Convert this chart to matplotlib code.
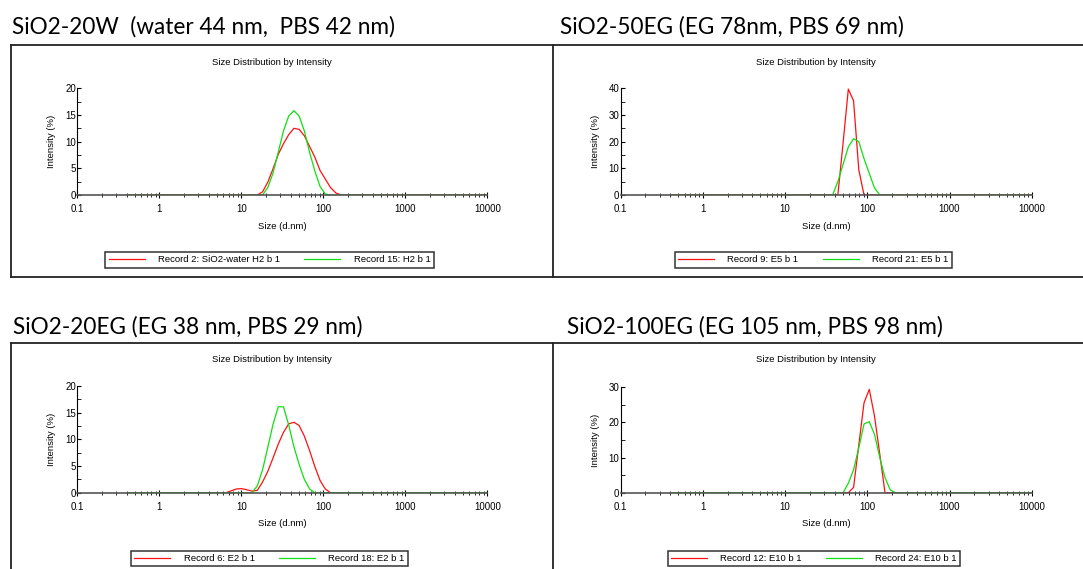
import matplotlib
matplotlib.use("Agg")
import matplotlib.pyplot as plt
from matplotlib.lines import Line2D
from matplotlib.ticker import FixedLocator, NullFormatter

W, H = 1083, 569

# Malvern size bins (d.nm) around the peaks, plus the ends of the measured range
SIZES = [0.4, 5.615, 6.503, 7.531, 8.721, 10.10, 11.70, 13.54, 15.69, 18.17, 21.04,
         24.36, 28.21, 32.67, 37.84, 43.82, 50.75, 58.77, 68.06, 78.82, 91.28,
         105.7, 122.4, 141.8, 164.2, 190.1, 220.2, 255.0, 10000]

# intensity (%) per bin
water_h2 = [0, 0, 0, 0, 0, 0, 0, 0, 0, 0.6, 2.4, 4.9, 7.6, 9.6, 11.3, 12.5, 12.3,
            11.1, 9.1, 7.1, 4.6, 3.0, 1.4, 0.4, 0, 0, 0, 0, 0]
pbs_h2 = [0, 0, 0, 0, 0, 0, 0, 0, 0, 0, 1.4, 4.1, 8.0, 12.0, 14.8, 15.8, 14.8,
          12.0, 8.0, 4.5, 1.6, 0.2, 0, 0, 0, 0, 0, 0, 0]
eg_e5 = [0, 0, 0, 0, 0, 0, 0, 0, 0, 0, 0, 0, 0, 0, 0, 0, 19.5, 39.7, 35.3, 9.4,
         0, 0, 0, 0, 0, 0, 0, 0, 0]
pbs_e5 = [0, 0, 0, 0, 0, 0, 0, 0, 0, 0, 0, 0, 0, 0, 0, 5.0, 11.5, 18.0, 21.1,
          20.0, 13.6, 8.1, 2.6, 0, 0, 0, 0, 0, 0]
eg_e2 = [0, 0, 0, 0.35, 0.7, 0.76, 0.55, 0.3, 0.45, 2.0, 4.0, 6.5, 9.1, 11.3,
         12.9, 13.2, 12.6, 10.6, 7.9, 4.9, 2.3, 0.7, 0, 0, 0, 0, 0, 0, 0]
pbs_e2 = [0, 0, 0, 0, 0, 0, 0, 0, 1.3, 4.3, 8.5, 12.8, 16.1, 16.1, 12.7, 8.6,
          5.3, 2.5, 0.7, 0, 0, 0, 0, 0, 0, 0, 0, 0, 0]
eg_e10 = [0, 0, 0, 0, 0, 0, 0, 0, 0, 0, 0, 0, 0, 0, 0, 0, 0, 0, 1.5, 13.6, 25.6,
          29.4, 21.8, 11.0, 0, 0, 0, 0, 0]
pbs_e10 = [0, 0, 0, 0, 0, 0, 0, 0, 0, 0, 0, 0, 0, 0, 0, 0, 0, 2.7, 6.5, 12.8,
           19.6, 20.2, 16.6, 10.0, 4.3, 0.8, 0, 0, 0]

TICK_POS = [0.1, 1, 10, 100, 1000, 10000]
TICK_LABELS = ["0.1", "1", "10", "100", "1000", "10000"]
MINOR_POS = [m * d for d in [0.1, 1, 10, 100, 1000] for m in range(2, 10)]

panels = [
    dict(title="SiO2-20W  (water 44 nm,  PBS 42 nm)", tx=11.7, ty=33.3,
         box=(77.3, 487.3, 195.0, 88.3), ymax=20, ystep=5,
         red=water_h2, green=pbs_h2,
         labels=("Record 2: SiO2-water H2 b 1", "Record 15: H2 b 1"),
         atitle=(271.7, 62.7), legend=(269.5, 260.0)),
    dict(title="SiO2-50EG (EG 78nm, PBS 69 nm)", tx=560.0, ty=33.3,
         box=(620.7, 1031.7, 195.0, 88.3), ymax=40, ystep=10,
         red=eg_e5, green=pbs_e5,
         labels=("Record 9: E5 b 1", "Record 21: E5 b 1"),
         atitle=(815.5, 62.7), legend=(813.3, 260.0)),
    dict(title="SiO2-20EG (EG 38 nm, PBS 29 nm)", tx=13.3, ty=333.3,
         box=(77.3, 487.3, 492.7, 386.0), ymax=20, ystep=5,
         red=eg_e2, green=pbs_e2,
         labels=("Record 6: E2 b 1", "Record 18: E2 b 1"),
         atitle=(271.7, 360.0), legend=(269.5, 558.5)),
    dict(title="SiO2-100EG (EG 105 nm, PBS 98 nm)", tx=566.7, ty=333.3,
         box=(620.7, 1031.7, 492.7, 387.3), ymax=30, ystep=10,
         red=eg_e10, green=pbs_e10,
         labels=("Record 12: E10 b 1", "Record 24: E10 b 1"),
         atitle=(815.5, 360.0), legend=(814.0, 558.5)),
]

plt.rcParams["font.family"] = ["Liberation Sans", "DejaVu Sans"]

fig = plt.figure(figsize=(W / 100, H / 100), dpi=100)


def fx(px):
    return px / W


def fy(py):
    return 1 - py / H


# slide frame lines
frame = [
    ((11, W), (45, 45)), ((11, W), (277, 277)), ((11, 11), (45, 277)), ((553.3, 553.3), (45, 277)),
    ((11, W), (343.3, 343.3)), ((11, 11), (343.3, H)), ((553.3, 553.3), (343.3, H)),
]
for xs, ys in frame:
    fig.add_artist(Line2D([fx(x) for x in xs], [fy(y) for y in ys], color="#222222", lw=1.3))

for p in panels:
    x0, x1, y0, y1 = p["box"]
    ax = fig.add_axes([fx(x0), fy(y0), (x1 - x0) / W, (y0 - y1) / H])
    ax.plot(SIZES, p["red"], color="#ff1010", lw=0.9, label=p["labels"][0])
    ax.plot(SIZES, p["green"], color="#10e010", lw=0.9, label=p["labels"][1])
    ax.set_xscale("log")
    ax.set_xlim(0.1, 10000)
    ax.set_ylim(0, p["ymax"])
    ax.xaxis.set_major_locator(FixedLocator(TICK_POS))
    ax.xaxis.set_minor_locator(FixedLocator(MINOR_POS))
    ax.xaxis.set_minor_formatter(NullFormatter())
    ax.set_xticks(TICK_POS, TICK_LABELS)
    yt = list(range(0, p["ymax"] + 1, p["ystep"]))
    ax.set_yticks(yt, [str(v) for v in yt])
    ax.yaxis.set_minor_locator(FixedLocator([v + p["ystep"] / 2 for v in yt[:-1]]))
    for s in ["top", "right"]:
        ax.spines[s].set_visible(False)
    ax.spines["left"].set_linewidth(0.8)
    ax.spines["bottom"].set_linewidth(1.2)
    ax.spines["bottom"].set_color("#555555")
    ax.tick_params(axis="x", which="major", direction="inout", length=5, width=0.8,
                   labelsize=7, pad=4)
    ax.tick_params(axis="x", which="minor", direction="inout", length=3, width=0.6)
    ax.tick_params(axis="y", which="major", direction="in", length=3, width=0.8,
                   labelsize=7, pad=1)
    ax.tick_params(axis="y", which="minor", direction="in", length=3, width=0.6)
    ax.set_xlabel("Size (d.nm)", fontsize=6.8, va="center")
    ax.xaxis.set_label_coords(0.5, -31 / (y0 - y1))
    ax.set_ylabel("Intensity (%)", fontsize=6.8, va="center")
    ax.yaxis.set_label_coords(-25.6 / (x1 - x0), 0.5)
    ax.set_facecolor("none")

    leg = ax.legend(loc="center", bbox_to_anchor=(fx(p["legend"][0]), fy(p["legend"][1])),
                    bbox_transform=fig.transFigure, ncol=2, fontsize=6.8,
                    handlelength=3.8, handletextpad=1.4, columnspacing=2.6,
                    borderpad=0.35, frameon=True, fancybox=False)
    leg.get_frame().set_edgecolor("black")
    leg.get_frame().set_linewidth(1.1)

    fig.text(fx(p["atitle"][0]), fy(p["atitle"][1]), "Size Distribution by Intensity",
             fontsize=6.8, ha="center", va="center")
    fig.text(fx(p["tx"]), fy(p["ty"]), p["title"], fontsize=16.3, ha="left",
             va="baseline", family=["Lato", "DejaVu Sans"])

fig.savefig("out.png", dpi=100)
